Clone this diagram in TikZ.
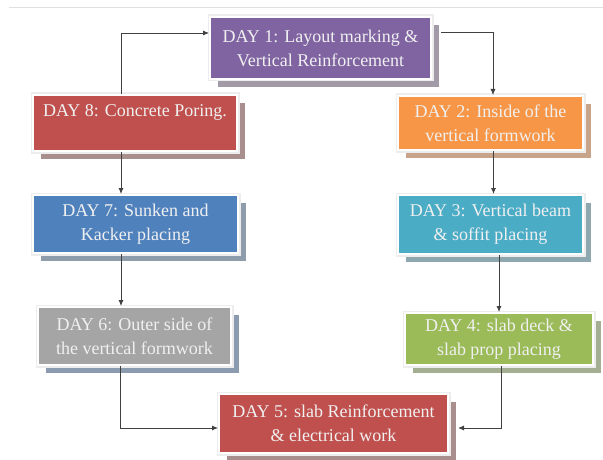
\documentclass[tikz,border=0pt]{standalone}
\usepackage{fontspec}
\setmainfont{Liberation Serif}
\usetikzlibrary{shadows,arrows.meta}

\definecolor{purpbox}{HTML}{8064A2}
\definecolor{purpsh}{HTML}{A39AA8}
\definecolor{redbox}{HTML}{C0504D}
\definecolor{redsh}{HTML}{A98E8E}
\definecolor{orangebox}{HTML}{F79646}
\definecolor{orangesh}{HTML}{C8A58A}
\definecolor{bluebox}{HTML}{4F81BD}
\definecolor{bluesh}{HTML}{8E9CAB}
\definecolor{aquabox}{HTML}{4BACC6}
\definecolor{aquash}{HTML}{8FA7AF}
\definecolor{graybox}{HTML}{A5A5A5}
\definecolor{graysh}{HTML}{8C9CB0}
\definecolor{greenbox}{HTML}{9BBB59}
\definecolor{greensh}{HTML}{A4AE92}

\begin{document}
\begin{tikzpicture}[x=1pt,y=-1pt,
  every node/.style={font=\fontsize{18}{24}\selectfont,text=white!94!black,align=center},
  day/.style 2 args={fill=#1,
    drop shadow={shadow xshift=8pt,shadow yshift=-8pt,fill=#2,opacity=1},
    preaction={draw=black!7,line width=5pt},
    draw=white,line width=2pt,inner sep=0pt},
  flow/.style={draw=black!75,line width=0.8pt,-{Latex[length=6pt,width=5pt]}}]
  \useasboundingbox (0,0) rectangle (603,460);
  \draw[black!12,line width=0.8pt] (9,7) -- (603,7);

  \node[day={purpbox}{purpsh},minimum width=221pt,minimum height=62pt] (d1) at (320.5,48)
    {DAY 1: Layout marking \&\\Vertical Reinforcement};
  \node[day={orangebox}{orangesh},minimum width=185pt,minimum height=54pt] (d2) at (490.5,123)
    {DAY 2: Inside of the\\vertical formwork};
  \node[day={aquabox}{aquash},minimum width=185pt,minimum height=59pt] (d3) at (490.5,224.5)
    {DAY 3: Vertical beam\\\& soffit placing};
  \node[day={greenbox}{greensh},minimum width=188pt,minimum height=52pt] (d4) at (499,339)
    {DAY 4: slab deck \&\\slab prop placing};
  \node[day={redbox}{redsh},minimum width=229pt,minimum height=59pt] (d5) at (333.5,423.5)
    {DAY 5: slab Reinforcement\\\& electrical work};
  \node[day={graybox}{graysh},minimum width=193pt,minimum height=58pt] (d6) at (134.5,336)
    {DAY 6: Outer side of\\the vertical formwork};
  \node[day={bluebox}{bluesh},minimum width=205pt,minimum height=58pt] (d7) at (135.5,224)
    {DAY 7: Sunken and\\Kacker placing};
  \node[day={redbox}{redsh},minimum width=204pt,minimum height=56pt] (d8) at (135,123)
    {DAY 8: Concrete Poring.\\\mbox{}};

  % the weekly cycle
  \draw[flow] ([xshift=9pt,yshift=16pt]d1.east) -| ([xshift=2.5pt]d2.north);
  \draw[flow] ([xshift=3pt]d2.south) -- ([xshift=3pt]d3.north);
  \draw[flow] (d4.north |- d3.south) -- (d4.north);
  \draw[flow] ([xshift=2pt]d4.south) |- ([xshift=9pt,yshift=-4.5pt]d5.east);
  \draw[flow] ([xshift=-14.5pt]d6.south) |- ([yshift=-4.5pt]d5.west);
  \draw[flow] ([xshift=-14.5pt]d7.south) -- ([xshift=-13.5pt]d6.north);
  \draw[flow] ([xshift=-14pt]d8.south) -- ([xshift=-14.5pt]d7.north);
  \draw[flow] ([xshift=-14pt]d8.north) |- ([yshift=15pt]d1.west);
\end{tikzpicture}
\end{document}
